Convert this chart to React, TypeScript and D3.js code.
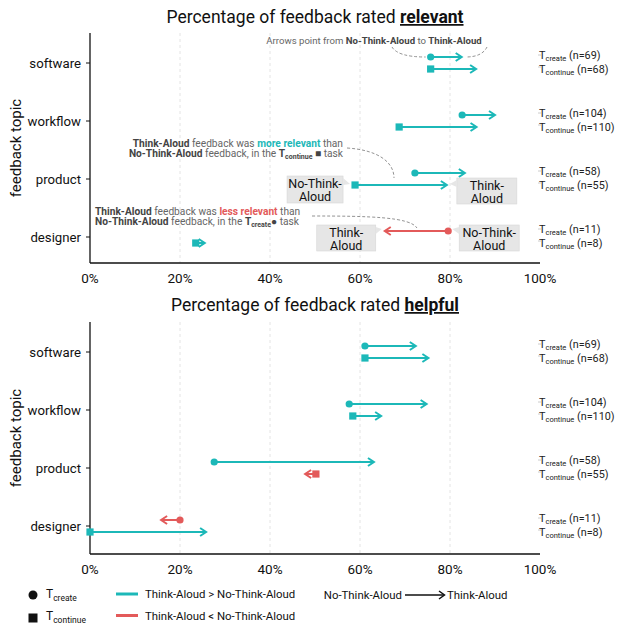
import React from "react";
import * as d3 from "d3";

const categories = ["software", "workflow", "product", "designer"];
const nCreate = [69, 104, 58, 11];
const nContinue = [68, 110, 55, 8];

const relevantCreateNTA = [75.7, 82.7, 72.2, 79.6];
const relevantCreateTA = [82.6, 90.0, 83.3, 65.5];
const relevantContinueNTA = [75.7, 68.7, 58.9, 23.5];
const relevantContinueTA = [85.8, 85.9, 79.3, 25.5];

const helpfulCreateNTA = [61.1, 57.6, 27.6, 20.0];
const helpfulCreateTA = [72.4, 74.8, 63.1, 15.8];
const helpfulContinueNTA = [61.1, 58.4, 50.2, 0.0];
const helpfulContinueTA = [75.2, 64.7, 47.8, 25.8];

const xTicks = [0, 20, 40, 60, 80, 100];

const TEAL = "#1cb8b8";
const RED = "#e35a5a";
const FONT = "Roboto, 'Noto Sans', sans-serif";
const GRAY = "#666";
const DARK = "#444";

const x = d3.scaleLinear().domain([0, 100]).range([90, 540]);

function Arrow({ from, to, y, shape }: { from: number; to: number; y: number; shape: string }) {
  const x0 = x(from);
  const x1 = x(to);
  const color = to >= from ? TEAL : RED;
  const dir = to >= from ? 1 : -1;
  const head = 6;
  return (
    <g>
      <line x1={x0} y1={y} x2={x1 - dir * 1} y2={y} stroke={color} strokeWidth={2} />
      <polyline
        points={`${x1 - dir * head},${y - 4} ${x1},${y} ${x1 - dir * head},${y + 4}`}
        fill="none"
        stroke={color}
        strokeWidth={2}
        strokeLinejoin="miter"
      />
      {shape === "circle" ? (
        <circle cx={x0} cy={y} r={3.6} fill={color} />
      ) : (
        <rect x={x0 - 3.6} y={y - 3.6} width={7.2} height={7.2} fill={color} />
      )}
    </g>
  );
}

function Panel({
  word,
  titleY,
  axisTop,
  axisY,
  yRange,
  createNTA,
  createTA,
  continueNTA,
  continueTA,
}: {
  word: string;
  titleY: number;
  axisTop: number;
  axisY: number;
  yRange: [number, number];
  createNTA: number[];
  createTA: number[];
  continueNTA: number[];
  continueTA: number[];
}) {
  const y = d3.scalePoint<string>().domain(categories).range(yRange);
  const off = 6;
  return (
    <g fontFamily={FONT}>
      <text x={315} y={titleY} textAnchor="middle" fontSize={17.5} fill="#111">
        <tspan>Percentage of feedback rated </tspan>
        <tspan fontWeight="bold" textDecoration="underline">{word}</tspan>
      </text>
      {xTicks.slice(1, 5).map((t) => (
        <line key={t} x1={x(t)} x2={x(t)} y1={axisTop} y2={axisY} stroke="#ddd" strokeDasharray="3,3" strokeWidth={0.8} />
      ))}
      <line x1={x(0)} x2={x(0)} y1={axisTop} y2={axisY} stroke="#111" strokeWidth={1.3} />
      <line x1={x(0)} x2={x(100)} y1={axisY} y2={axisY} stroke="#111" strokeWidth={1.3} />
      {xTicks.map((t) => (
        <text key={t} x={x(t)} y={axisY + 20} textAnchor="middle" fontSize={13.5} fill="#111">
          {t}%
        </text>
      ))}
      {categories.map((c) => (
        <g key={c}>
          <line x1={x(0) - 4} x2={x(0)} y1={y(c)} y2={y(c)} stroke="#111" />
          <text x={x(0) - 9} y={y(c)! + 5} textAnchor="end" fontSize={13.2} fill="#111">
            {c}
          </text>
        </g>
      ))}
      <text
        transform={`translate(21,${(axisTop + axisY) / 2}) rotate(-90)`}
        textAnchor="middle"
        fontSize={15}
        fill="#111"
      >
        feedback topic
      </text>
      {categories.map((c, i) => (
        <g key={"a" + c}>
          <Arrow from={createNTA[i]} to={createTA[i]} y={y(c)! - off} shape="circle" />
          <Arrow from={continueNTA[i]} to={continueTA[i]} y={y(c)! + off} shape="square" />
        </g>
      ))}
      {categories.map((c, i) => (
        <g key={"n" + c} fontSize={10.8} fill="#222">
          <line x1={538} x2={541} y1={y(c)! - off - 2} y2={y(c)! - off - 2} stroke="#ccc" />
          <line x1={538} x2={541} y1={y(c)! + off - 2} y2={y(c)! + off - 2} stroke="#ccc" />
          <text x={539} y={y(c)! - off + 2}>
            <tspan>T</tspan>
            <tspan fontSize={7.5} dy={2}>create</tspan>
            <tspan dy={-2}> (n={nCreate[i]})</tspan>
          </text>
          <text x={539} y={y(c)! + off + 4}>
            <tspan>T</tspan>
            <tspan fontSize={7.5} dy={2}>continue</tspan>
            <tspan dy={-2}> (n={nContinue[i]})</tspan>
          </text>
        </g>
      ))}
    </g>
  );
}

function Callout({
  x0,
  y0,
  w,
  h,
  lines,
  tipX,
  tipY,
  side,
}: {
  x0: number;
  y0: number;
  w: number;
  h: number;
  lines: string[];
  tipX: number;
  tipY: number;
  side: "left" | "right";
}) {
  const bx = side === "right" ? x0 + w : x0;
  const notch = `M${bx},${y0 + 2} L${tipX},${tipY} L${bx},${y0 + 9} Z`;
  return (
    <g fontFamily={FONT}>
      <rect x={x0} y={y0} width={w} height={h} fill="#e6e6e6" stroke="#d8d8d8" strokeWidth={0.6} />
      <path d={notch} fill="#e6e6e6" />
      {lines.map((l, i) => (
        <text key={i} x={x0 + w / 2} y={y0 + 11.5 + i * 13.5} textAnchor="middle" fontSize={12.5} fill="#111">
          {l}
        </text>
      ))}
    </g>
  );
}

export default function App() {
  const yTopScale = d3.scalePoint<string>().domain(categories).range([63, 237]);
  const pY = yTopScale("product")!;
  const dY = yTopScale("designer")!;
  const sY = yTopScale("software")!;
  const prodNTAx = x(relevantContinueNTA[2]);
  const prodTAx = x(relevantContinueTA[2]);
  const desNTAx = x(relevantCreateNTA[3]);
  const desTAx = x(relevantCreateTA[3]);
  const swNTAx = x(relevantCreateNTA[0]);
  const swTAx = x(relevantCreateTA[0]);
  const annSize = 10.2;
  return (
    <svg width={623} height={626} style={{ position: "absolute", left: 0, top: 0, background: "#fff" }}>
      <Panel
        word="relevant"
        titleY={23}
        axisTop={33}
        axisY={263}
        yRange={[63, 237]}
        createNTA={relevantCreateNTA}
        createTA={relevantCreateTA}
        continueNTA={relevantContinueNTA}
        continueTA={relevantContinueTA}
      />
      <Panel
        word="helpful"
        titleY={311}
        axisTop={322}
        axisY={554}
        yRange={[352, 526]}
        createNTA={helpfulCreateNTA}
        createTA={helpfulCreateTA}
        continueNTA={helpfulContinueNTA}
        continueTA={helpfulContinueTA}
      />

      {/* annotations top panel */}
      <g fontFamily={FONT} fontSize={annSize}>
        <text x={374} y={44} textAnchor="middle" fill={GRAY} fontSize={9.6}>
          <tspan>Arrows point from </tspan>
          <tspan fontWeight="bold" fill={DARK}>No-Think-Aloud</tspan>
          <tspan> to </tspan>
          <tspan fontWeight="bold" fill={DARK}>Think-Aloud</tspan>
        </text>
        <path d={`M392,47 Q398,${sY - 6} ${swNTAx - 5},${sY - 6}`} fill="none" stroke="#777" strokeDasharray="3,2" strokeWidth={0.8} />
        <path d={`M487,47 Q482,${sY - 6} ${swTAx + 4},${sY - 6}`} fill="none" stroke="#777" strokeDasharray="3,2" strokeWidth={0.8} />

        <text x={343} y={146.5} textAnchor="end" fill={GRAY}>
          <tspan fontWeight="bold" fill={DARK}>Think-Aloud</tspan>
          <tspan> feedback was </tspan>
          <tspan fontWeight="bold" fill={TEAL}>more relevant</tspan>
          <tspan> than</tspan>
        </text>
        <text x={343} y={157} textAnchor="end" fill={GRAY}>
          <tspan fontWeight="bold" fill={DARK}>No-Think-Aloud</tspan>
          <tspan> feedback, in the </tspan>
          <tspan fontWeight="bold" fill={DARK}>T</tspan>
          <tspan fontWeight="bold" fill={DARK} fontSize={7} dy={2}>continue</tspan>
          <tspan dy={-2} fill={DARK}> ■</tspan>
          <tspan> task</tspan>
        </text>
        <path d={`M347,148 C378,150 394,162 394,${pY - 1}`} fill="none" stroke="#777" strokeDasharray="3,2" strokeWidth={0.8} />

        <text x={95} y={214.5} fill={GRAY}>
          <tspan fontWeight="bold" fill={DARK}>Think-Aloud</tspan>
          <tspan> feedback was </tspan>
          <tspan fontWeight="bold" fill={RED}>less relevant</tspan>
          <tspan> than</tspan>
        </text>
        <text x={95} y={225} fill={GRAY}>
          <tspan fontWeight="bold" fill={DARK}>No-Think-Aloud</tspan>
          <tspan> feedback, in the </tspan>
          <tspan fontWeight="bold" fill={DARK}>T</tspan>
          <tspan fontWeight="bold" fill={DARK} fontSize={7} dy={2}>create</tspan>
          <tspan dy={-2} fill={DARK}>● </tspan>
          <tspan> task</tspan>
        </text>
        <path d={`M312,216 C370,216 410,217 417,${dY - 9}`} fill="none" stroke="#777" strokeDasharray="3,2" strokeWidth={0.8} />
      </g>

      <Callout x0={prodNTAx - 68} y0={pY - 3} w={56} h={27} lines={["No-Think-", "Aloud"]} tipX={prodNTAx - 5} tipY={pY + 5} side="right" />
      <Callout x0={prodTAx + 10} y0={pY - 1} w={60} h={26} lines={["Think-", "Aloud"]} tipX={prodTAx + 3} tipY={pY + 5} side="left" />
      <Callout x0={desTAx - 68} y0={dY - 12} w={59} h={26} lines={["Think-", "Aloud"]} tipX={desTAx - 3} tipY={dY - 8} side="right" />
      <Callout x0={desNTAx + 11} y0={dY - 12} w={60} h={26} lines={["No-Think-", "Aloud"]} tipX={desNTAx + 4} tipY={dY - 8} side="left" />

      {/* legend */}
      <g fontFamily={FONT} fill="#111">
        <circle cx={33} cy={595} r={4.5} fill="#111" />
        <text x={46} y={598} fontSize={12}>
          <tspan>T</tspan>
          <tspan fontSize={8.5} dy={3}>create</tspan>
        </text>
        <rect x={28.5} y={613.5} width={9} height={9} fill="#111" />
        <text x={46} y={620} fontSize={12}>
          <tspan>T</tspan>
          <tspan fontSize={8.5} dy={3}>continue</tspan>
        </text>
        <line x1={116} x2={138} y1={594} y2={594} stroke={TEAL} strokeWidth={3} />
        <text x={145} y={598} fontSize={11.4}>Think-Aloud &gt; No-Think-Aloud</text>
        <line x1={116} x2={138} y1={615.5} y2={615.5} stroke={RED} strokeWidth={3} />
        <text x={145} y={619.5} fontSize={11.4}>Think-Aloud &lt; No-Think-Aloud</text>
        <text x={402} y={599} fontSize={11.4} textAnchor="end">No-Think-Aloud</text>
        <line x1={405} x2={444} y1={595} y2={595} stroke="#111" strokeWidth={1.5} />
        <polyline points="439,591 444.5,595 439,599" fill="none" stroke="#111" strokeWidth={1.5} />
        <text x={447} y={599} fontSize={11.4}>Think-Aloud</text>
      </g>
    </svg>
  );
}
